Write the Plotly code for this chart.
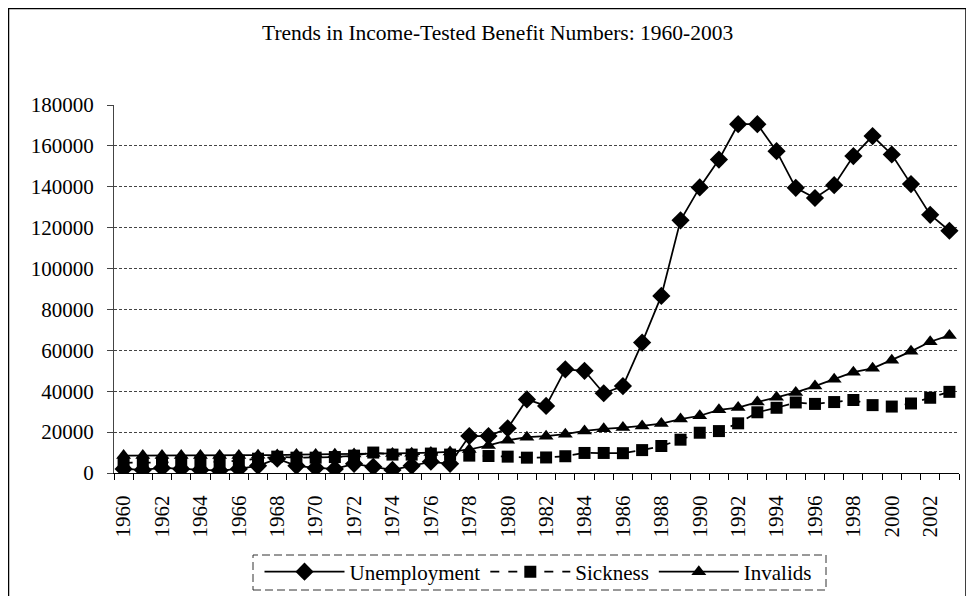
import plotly.graph_objects as go

years = list(range(1960, 2004))
unemployment = [2000, 1500, 2500, 2000, 1500, 1200, 2000, 3500, 7000, 3500,
                2500, 2000, 4500, 3000, 1500, 3500, 5500, 4500, 18100, 18100,
                21900, 36000, 32800, 50700, 50000, 39000, 42500, 63800, 86600, 123600,
                139700, 153300, 170600, 170600, 157400, 139500, 134500, 140800, 155000, 164800,
                155800, 141300, 126300, 118500]
sickness = [5000, 5000, 5000, 5200, 5300, 5500, 6000, 7000, 8000, 7500,
            7500, 7800, 8500, 10000, 9000, 9000, 9500, 9000, 8500, 8300,
            8000, 7500, 7600, 8200, 9800, 9800, 9700, 11200, 13200, 16300,
            19700, 20500, 24300, 29700, 31900, 34500, 33800, 34700, 35700, 33200,
            32500, 34000, 36800, 39700]
invalids = [8500, 8500, 8500, 8500, 8500, 8500, 8600, 8700, 8800, 9000,
            9000, 9200, 9300, 9500, 9500, 9700, 10000, 10300, 11500, 13500,
            16000, 17500, 18000, 19000, 20600, 21600, 22200, 23000, 24200, 26400,
            28000, 30900, 32000, 34700, 37000, 39400, 42500, 45800, 49300, 51200,
            55200, 59500, 64200, 67300]
label_years = list(range(1960, 2003, 2))
title_text = "Trends in Income-Tested Benefit Numbers: 1960-2003"

FONT = "Liberation Serif"
FS = 21
OFF = 8  # page body margin
W, H = 974 - OFF, 596 - OFF
# plot area in page pixel coordinates
L, R, T, B = 114, 959, 105, 473

def px_x(p):
    return (p - L) / (R - L)

def px_y(p):
    return (B - p) / (B - T)

fig = go.Figure()
fig.add_trace(go.Scatter(x=years, y=unemployment, name="Unemployment", mode="lines+markers",
                         line=dict(color="black", width=1.75),
                         marker=dict(symbol="diamond", size=14, color="black")))
fig.add_trace(go.Scatter(x=years, y=sickness, name="Sickness", mode="lines+markers",
                         line=dict(color="black", width=1.75, dash="dash"),
                         marker=dict(symbol="square", size=12, color="black")))
fig.add_trace(go.Scatter(x=years, y=invalids, name="Invalids", mode="lines+markers",
                         line=dict(color="black", width=1.75),
                         marker=dict(symbol="triangle-up", size=13, color="black")))

fig.update_layout(
    width=W, height=H,
    margin=dict(l=L - OFF, r=W - (R - OFF), t=T - OFF, b=H - (B - OFF), autoexpand=False),
    paper_bgcolor="white", plot_bgcolor="white",
    font=dict(family=FONT, size=FS, color="black"),
    showlegend=True,
    legend=dict(orientation="h", x=px_x(538), xanchor="center", y=px_y(572), yanchor="middle",
                font=dict(family=FONT, size=FS, color="black"),
                bgcolor="rgba(0,0,0,0)", itemwidth=80, tracegroupgap=0),
    annotations=[dict(text=title_text, xref="paper", yref="paper", x=px_x(497), y=px_y(33),
                      xanchor="center", yanchor="middle", showarrow=False,
                      font=dict(family=FONT, size=21.5, color="black"))],
    shapes=[
        dict(type="rect", xref="paper", yref="paper", x0=px_x(8.5), x1=px_x(966), y0=px_y(610), y1=px_y(8.5),
             line=dict(color="black", width=1.5), fillcolor="rgba(0,0,0,0)", layer="below"),
        dict(type="rect", xref="paper", yref="paper", x0=px_x(253), x1=px_x(826), y0=px_y(590), y1=px_y(555),
             line=dict(color="#333", width=1, dash="8px,4px"), fillcolor="rgba(0,0,0,0)"),
    ],
)

fig.update_xaxes(range=[1959.5, 2003.5], tickmode="array", tickvals=label_years,
                 ticktext=[str(y) for y in label_years], tickangle=-90, ticks="",
                 showline=True, linecolor="black", linewidth=1, showgrid=False, zeroline=False,
                 ticklabelstandoff=13,
                 minor=dict(tickmode="array", tickvals=[y - 0.5 for y in years] + [2003.5],
                            ticks="outside", ticklen=6, tickcolor="black", showgrid=False),
                 tickfont=dict(family=FONT, size=FS, color="black"))
fig.update_yaxes(range=[0, 180000], tickmode="linear", tick0=0, dtick=20000, tickformat="d",
                 ticks="outside", ticklen=6, tickcolor="#444", showline=True, linecolor="#444",
                 linewidth=1, showgrid=True, gridcolor="#444", gridwidth=1, griddash="3px,2px",
                 zeroline=False, ticklabelstandoff=9,
                 tickfont=dict(family=FONT, size=FS, color="black"))

fig.write_html("out.html")
